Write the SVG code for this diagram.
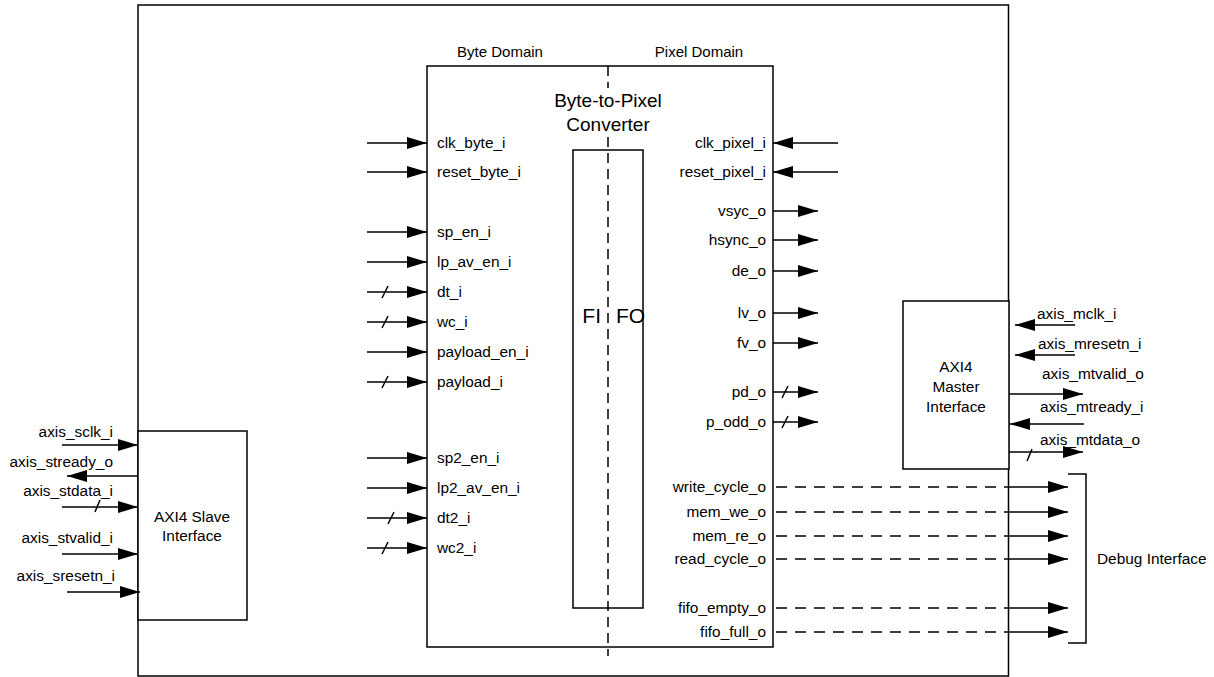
<svg xmlns="http://www.w3.org/2000/svg" width="1214" height="677" viewBox="0 0 1214 677">
<defs>
<style>
text{font-family:"Liberation Sans",Arial,sans-serif;font-size:15.4px;fill:#000}
.box{fill:#fff;stroke:#000;stroke-width:1.5}
.w{stroke:#000;stroke-width:1.5;fill:none}
.a{stroke:#000;stroke-width:1.5;fill:none;marker-end:url(#ah)}
.d{stroke:#000;stroke-width:1.5;fill:none;stroke-dasharray:11 8}
.e{text-anchor:end}
.m{text-anchor:middle}
</style>
<marker id="ah" markerUnits="userSpaceOnUse" markerWidth="20" markerHeight="12" refX="20" refY="6" orient="auto">
<path d="M0,0 L20,6 L0,12 z" fill="#000"/>
</marker>
</defs>
<rect width="1214" height="677" fill="#fff"/>
<g id="outer"><rect class="box" x="138" y="5" width="870.5" height="671"/></g>
<g id="slave">
<rect class="box" x="138" y="431" width="109" height="189"/>
<text class="m" x="192" y="522">AXI4 Slave</text>
<text class="m" x="192" y="541">Interface</text>
</g>
<g id="master">
<rect class="box" x="903" y="301" width="106" height="168"/>
<text class="m" x="956" y="372">AXI4</text>
<text class="m" x="956" y="392">Master</text>
<text class="m" x="956" y="412">Interface</text>
</g>
<g id="converter">
<rect class="box" x="427" y="66" width="346" height="581"/>
<text class="m" x="500" y="57" style="font-size:15px">Byte Domain</text>
<text class="m" x="699" y="57" style="font-size:15px">Pixel Domain</text>
<text class="m" x="608" y="107" style="font-size:19px">Byte-to-Pixel</text>
<text class="m" x="608" y="131" style="font-size:19px">Converter</text>
<text x="437" y="148">clk_byte_i</text>
<text x="437" y="177">reset_byte_i</text>
<text x="437" y="237">sp_en_i</text>
<text x="437" y="267">lp_av_en_i</text>
<text x="437" y="297">dt_i</text>
<text x="437" y="327">wc_i</text>
<text x="437" y="357">payload_en_i</text>
<text x="437" y="387">payload_i</text>
<text x="437" y="463">sp2_en_i</text>
<text x="437" y="493">lp2_av_en_i</text>
<text x="437" y="523">dt2_i</text>
<text x="437" y="553">wc2_i</text>
<text class="e" x="766" y="148">clk_pixel_i</text>
<text class="e" x="766" y="177">reset_pixel_i</text>
<text class="e" x="766" y="216">vsyc_o</text>
<text class="e" x="766" y="245">hsync_o</text>
<text class="e" x="766" y="276">de_o</text>
<text class="e" x="766" y="318">lv_o</text>
<text class="e" x="766" y="348">fv_o</text>
<text class="e" x="766" y="397">pd_o</text>
<text class="e" x="766" y="427">p_odd_o</text>
<text class="e" x="766" y="492">write_cycle_o</text>
<text class="e" x="766" y="517">mem_we_o</text>
<text class="e" x="766" y="541">mem_re_o</text>
<text class="e" x="766" y="564">read_cycle_o</text>
<text class="e" x="766" y="613">fifo_empty_o</text>
<text class="e" x="766" y="637">fifo_full_o</text>
</g>
<g id="fifo">
<rect class="box" x="573" y="150" width="70" height="458"/>
<text class="e" x="601" y="323" style="font-size:21px">FI</text>
<text x="616" y="323" style="font-size:21px">FO</text>
</g>
<g id="debug">
<path class="w" d="M1068,474 H1086 V643 H1068"/>
<text x="1097" y="564">Debug Interface</text>
</g>
<g id="connectors">
<path class="d" d="M608,66 V88 M608,137 V656" style="stroke-dasharray:10 6"/>
<path class="a" d="M367,143 H427"/>
<path class="a" d="M367,172 H427"/>
<path class="a" d="M367,232 H427"/>
<path class="a" d="M367,262 H427"/>
<path class="a" d="M367,292 H427"/>
<path class="a" d="M367,322 H427"/>
<path class="a" d="M367,352 H427"/>
<path class="a" d="M367,382 H427"/>
<path class="a" d="M367,458 H427"/>
<path class="a" d="M367,488 H427"/>
<path class="a" d="M367,518 H427"/>
<path class="a" d="M367,548 H427"/>
<path class="w" d="M382,298 L388,286 M382,328 L388,316 M382,388 L388,376 M388,524 L394,512 M382,554 L388,542"/>
<path class="a" d="M838,143 H773"/>
<path class="a" d="M838,172 H773"/>
<path class="a" d="M773,211 H818"/>
<path class="a" d="M773,240 H818"/>
<path class="a" d="M773,271 H818"/>
<path class="a" d="M773,313 H818"/>
<path class="a" d="M773,343 H818"/>
<path class="a" d="M773,392 H818"/>
<path class="a" d="M773,422 H818"/>
<path class="w" d="M782,398 L788,386 M782,428 L788,416"/>
<path class="d" d="M776,487 H1008 M776,512 H1008 M776,536 H1008 M776,559 H1008 M776,608 H1008 M776,632 H1008"/>
<path class="a" d="M1008,487 H1068"/>
<path class="a" d="M1008,512 H1068"/>
<path class="a" d="M1008,536 H1068"/>
<path class="a" d="M1008,559 H1068"/>
<path class="a" d="M1008,608 H1068"/>
<path class="a" d="M1008,632 H1068"/>
<path class="a" d="M1075,325 H1015"/>
<path class="a" d="M1075,355 H1015"/>
<path class="a" d="M1009,394 H1083"/>
<path class="a" d="M1084,424 H1010"/>
<path class="a" d="M1009,452 H1083"/>
<path class="w" d="M1027,461 L1032,449"/>
<path class="a" d="M62,445 H138"/>
<path class="a" d="M138,476 H67"/>
<path class="a" d="M62,507 H138"/>
<path class="a" d="M62,554 H138"/>
<path class="a" d="M67,592 H140"/>
<path class="w" d="M95,512 L100,500"/>
</g>
<g id="ext-labels">
<text x="1037" y="319">axis_mclk_i</text>
<text x="1038" y="349">axis_mresetn_i</text>
<text x="1042" y="379">axis_mtvalid_o</text>
<text x="1040" y="412">axis_mtready_i</text>
<text x="1040" y="445">axis_mtdata_o</text>
<text class="e" x="113" y="437">axis_sclk_i</text>
<text class="e" x="113" y="467">axis_stready_o</text>
<text class="e" x="113" y="496">axis_stdata_i</text>
<text class="e" x="113" y="543">axis_stvalid_i</text>
<text class="e" x="115" y="581">axis_sresetn_i</text>
</g>
</svg>
